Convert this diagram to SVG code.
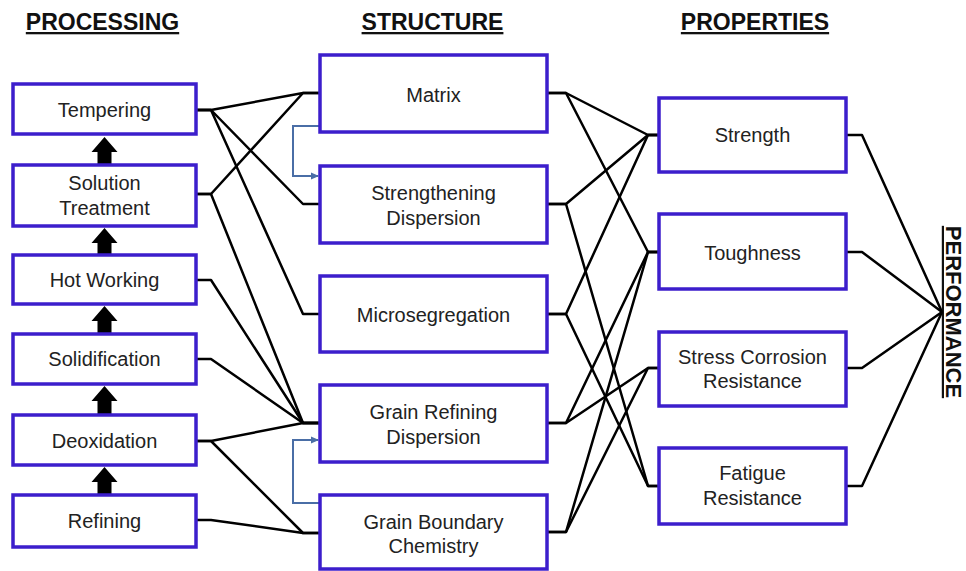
<svg xmlns="http://www.w3.org/2000/svg" width="966" height="571" viewBox="0 0 966 571">
<style>
.box{fill:#fff;stroke:#3c1ecc;stroke-width:3.5}
.t{font-family:"Liberation Sans",Arial,sans-serif;font-size:20px;fill:#222;text-anchor:middle;dominant-baseline:central}
.h{font-family:"Liberation Sans",Arial,sans-serif;font-size:23px;font-weight:bold;fill:#111;text-anchor:middle;text-decoration:underline}
.c{fill:none;stroke:#000;stroke-width:2.5;stroke-linejoin:round}
.b{fill:none;stroke:#4a6ea6;stroke-width:2}
.up{fill:#000}
</style>
<defs>
<marker id="ba" markerWidth="8" markerHeight="8" refX="7" refY="4" orient="auto" markerUnits="userSpaceOnUse">
<path d="M0,0.5 L8,4 L0,7.5 Z" fill="#4a6ea6"/>
</marker>
</defs>
<rect width="966" height="571" fill="#fff"/>
<g id="headers">
<text class="h" x="102.5" y="30">PROCESSING</text>
<text class="h" x="432.5" y="30">STRUCTURE</text>
<text class="h" x="755" y="30">PROPERTIES</text>
<text class="h" style="font-size:22px" transform="translate(946,312) rotate(90)" x="0" y="0">PERFORMANCE</text>
</g>
<g id="connectors">
<path class="c" d="M196,110 H211 L303,93 H320"/>
<path class="c" d="M196,110 H211 L303,204 H320"/>
<path class="c" d="M196,110 H211 L303,314 H320"/>
<path class="c" d="M196,194 H211 L303,93 H320"/>
<path class="c" d="M196,194 H211 L303,423 H320"/>
<path class="c" d="M196,280 H211 L303,423 H320"/>
<path class="c" d="M196,359 H211 L303,423 H320"/>
<path class="c" d="M196,441 H211 L303,423 H320"/>
<path class="c" d="M196,441 H211 L303,533 H320"/>
<path class="c" d="M196,520 H211 L303,533 H320"/>
<path class="c" d="M547,93 H566 L648,135 H659"/>
<path class="c" d="M547,93 H566 L648,252 H659"/>
<path class="c" d="M547,204 H566 L648,135 H659"/>
<path class="c" d="M547,204 H566 L648,486 H659"/>
<path class="c" d="M547,314 H566 L648,135 H659"/>
<path class="c" d="M547,314 H566 L648,486 H659"/>
<path class="c" d="M547,423 H566 L648,252 H659"/>
<path class="c" d="M547,423 H566 L648,368 H659"/>
<path class="c" d="M547,532 H566 L648,252 H659"/>
<path class="c" d="M547,532 H566 L648,368 H659"/>
<path class="c" d="M846,135 H862 L942,312"/>
<path class="c" d="M846,252 H862 L942,312"/>
<path class="c" d="M846,368 H862 L942,312"/>
<path class="c" d="M846,486 H862 L942,312"/>
<path class="b" d="M320,126 H293 V176 H318" marker-end="url(#ba)"/>
<path class="b" d="M320,503 H293 V440 H318" marker-end="url(#ba)"/>
<path class="up" d="M104.5,137 L117.5,152 L111.5,152 L111.5,164 L97.5,164 L97.5,152 L91.5,152 Z"/>
<path class="up" d="M104.5,228 L117.5,243 L111.5,243 L111.5,254 L97.5,254 L97.5,243 L91.5,243 Z"/>
<path class="up" d="M104.5,306 L117.5,321 L111.5,321 L111.5,333 L97.5,333 L97.5,321 L91.5,321 Z"/>
<path class="up" d="M104.5,386 L117.5,401 L111.5,401 L111.5,414 L97.5,414 L97.5,401 L91.5,401 Z"/>
<path class="up" d="M104.5,467 L117.5,482 L111.5,482 L111.5,494 L97.5,494 L97.5,482 L91.5,482 Z"/>
</g>
<g id="tempering"><rect class="box" x="13" y="84" width="183" height="50"/><text class="t" x="104.5" y="109.5">Tempering</text></g>
<g id="solution-treatment"><rect class="box" x="13" y="165" width="183" height="61"/><text class="t" x="104.5" y="183">Solution</text><text class="t" x="104.5" y="208">Treatment</text></g>
<g id="hot-working"><rect class="box" x="13" y="255" width="183" height="49"/><text class="t" x="104.5" y="280">Hot Working</text></g>
<g id="solidification"><rect class="box" x="13" y="334" width="183" height="50"/><text class="t" x="104.5" y="359">Solidification</text></g>
<g id="deoxidation"><rect class="box" x="13" y="415" width="183" height="50"/><text class="t" x="104.5" y="441">Deoxidation</text></g>
<g id="refining"><rect class="box" x="13" y="495" width="183" height="52"/><text class="t" x="104.5" y="521">Refining</text></g>
<g id="matrix"><rect class="box" x="320" y="55" width="227" height="77"/><text class="t" x="433.5" y="95">Matrix</text></g>
<g id="strengthening-dispersion"><rect class="box" x="320" y="166" width="227" height="77"/><text class="t" x="433.5" y="193">Strengthening</text><text class="t" x="433.5" y="218">Dispersion</text></g>
<g id="microsegregation"><rect class="box" x="320" y="276" width="227" height="76"/><text class="t" x="433.5" y="315">Microsegregation</text></g>
<g id="grain-refining-dispersion"><rect class="box" x="320" y="385" width="227" height="77"/><text class="t" x="433.5" y="412">Grain Refining</text><text class="t" x="433.5" y="437">Dispersion</text></g>
<g id="grain-boundary-chemistry"><rect class="box" x="320" y="495" width="227" height="74"/><text class="t" x="433.5" y="522">Grain Boundary</text><text class="t" x="433.5" y="546">Chemistry</text></g>
<g id="strength"><rect class="box" x="659" y="98" width="187" height="74"/><text class="t" x="752.5" y="135">Strength</text></g>
<g id="toughness"><rect class="box" x="659" y="214" width="187" height="75"/><text class="t" x="752.5" y="253">Toughness</text></g>
<g id="stress-corrosion-resistance"><rect class="box" x="659" y="332" width="187" height="74"/><text class="t" x="752.5" y="357">Stress Corrosion</text><text class="t" x="752.5" y="381">Resistance</text></g>
<g id="fatigue-resistance"><rect class="box" x="659" y="448" width="187" height="76"/><text class="t" x="752.5" y="473">Fatigue</text><text class="t" x="752.5" y="498">Resistance</text></g>
</svg>
